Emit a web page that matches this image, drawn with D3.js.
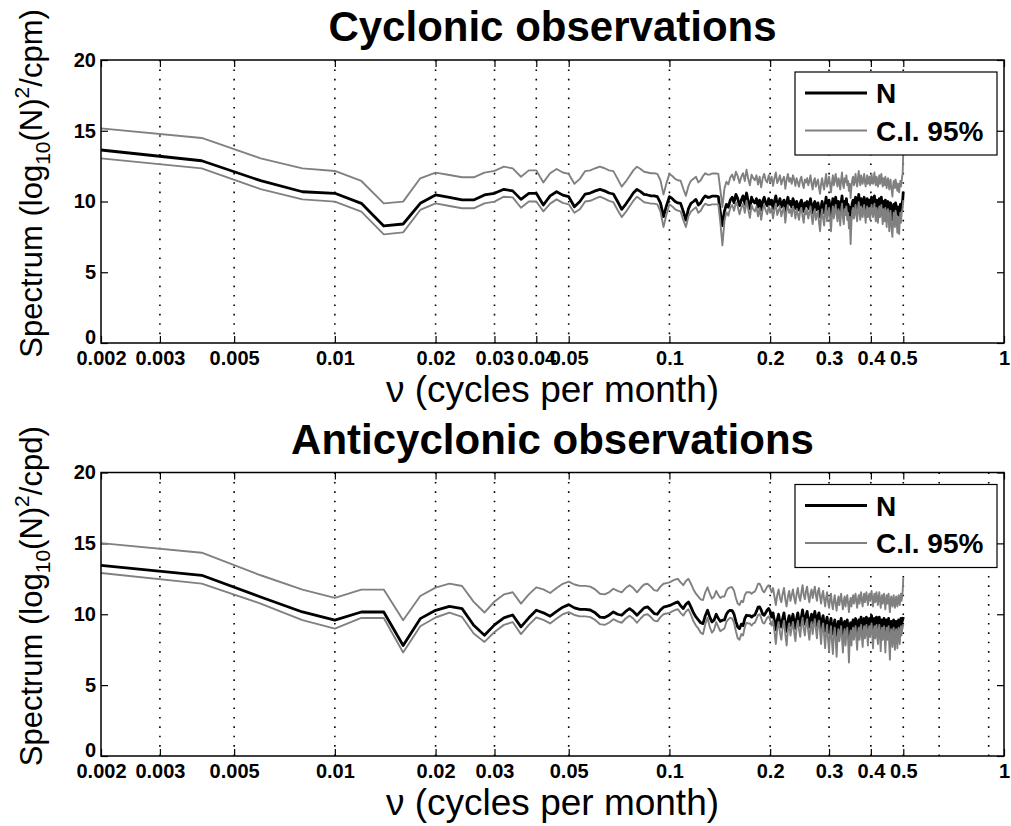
<!DOCTYPE html>
<html><head><meta charset="utf-8">
<script src="https://cdn.jsdelivr.net/npm/d3@7"></script>
<style>body{margin:0;background:#fff}svg{display:block}</style>
</head><body>
<svg id="c" width="1011" height="826"></svg>
<script>
// ---------- data ----------
const freqStep = 0.002; // spectral resolution (cycles per month); point k is at k*freqStep
const xTicksTop = [0.002,0.003,0.005,0.01,0.02,0.03,0.04,0.05,0.1,0.2,0.3,0.4,0.5,1];
const xTickLabelsTop = ["0.002","0.003","0.005","0.01","0.02","0.03","0.04","0.05","0.1","0.2","0.3","0.4","0.5","1"];
const gridTop = [0.003,0.005,0.01,0.02,0.03,0.04,0.05,0.1,0.2,0.3,0.4,0.5];
const xTicksBottom = [0.002,0.003,0.005,0.01,0.02,0.03,0.05,0.1,0.2,0.3,0.4,0.5,1];
const xTickLabelsBottom = ["0.002","0.003","0.005","0.01","0.02","0.03","0.05","0.1","0.2","0.3","0.4","0.5","1"];
const gridBottom = [0.003,0.005,0.01,0.02,0.03,0.05,0.1,0.2,0.3,0.4,0.5,0.64,0.9];
const yTicks = [0,5,10,15,20];
const legendLabels = ["N","C.I. 95%"];
const titles = ["Cyclonic observations","Anticyclonic observations"];
const yUnits = ["cpm","cpd"];

const cycN = [
13.64,12.88,11.47,10.69,10.58,9.87,8.27,8.41,9.87,10.46,
10.29,10.11,10.11,10.46,10.58,10.86,10.75,10.15,10.58,10.58,
9.75,10.40,10.69,10.45,10.34,9.63,10.00,10.53,10.60,10.75,
10.86,10.75,10.60,10.53,10.00,9.45,9.80,10.20,10.60,10.86,
10.70,10.50,10.46,10.40,10.40,10.34,9.90,8.93,9.70,10.34,
10.20,10.00,9.90,9.87,9.30,8.69,9.50,9.87,10.00,10.15,
9.75,9.90,10.20,10.40,10.30,10.30,10.38,10.38,10.38,10.35,
9.20,8.30,9.30,9.80,9.60,10.10,10.30,9.90,10.50,10.20,
9.70,10.10,10.40,9.80,10.60,10.00,9.50,10.30,10.00,9.90,
10.20,9.60,10.10,9.40,10.00,10.30,9.90,9.70,10.20,9.80,
10.10,9.50,10.00,10.40,9.70,9.90,10.20,9.60,9.90,10.10,
9.30,9.90,10.30,9.80,10.00,9.60,10.20,9.90,9.50,10.00,
9.70,9.40,9.90,10.10,9.60,9.30,9.90,9.70,10.00,9.50,
9.80,10.20,9.60,9.20,9.80,10.00,9.40,9.70,9.90,9.30,
8.90,9.60,10.00,9.50,9.20,9.80,10.30,9.40,9.70,10.10,
9.60,9.00,9.70,10.20,9.50,9.90,10.30,9.70,9.40,10.00,
9.80,9.20,9.90,10.40,9.60,9.30,10.00,9.70,10.20,9.50,
9.80,9.10,9.60,8.60,9.40,9.90,10.10,9.50,9.80,10.30,
9.70,9.40,10.00,10.50,9.80,9.50,10.20,9.90,9.60,10.00,
10.30,9.70,9.40,9.90,10.20,9.60,9.80,10.10,9.50,9.90,
10.30,9.80,9.60,10.00,10.40,9.70,9.50,10.10,9.80,9.40,
9.90,10.20,9.60,9.90,10.30,9.70,9.40,10.00,9.80,9.50,
10.10,9.70,9.30,9.80,10.00,9.60,9.20,9.70,9.90,9.40,
9.10,8.70,9.40,9.80,9.60,9.30,9.90,9.70,9.40,9.10,
9.60,9.30,9.00,9.50,9.80,9.40,9.70,9.90,10.10,10.70];

const cycUpper = [
15.17,14.49,13.05,12.34,12.16,11.45,9.87,9.99,11.64,12.04,
11.87,11.71,11.71,12.04,12.16,12.46,12.34,11.75,12.20,12.20,
11.35,12.00,12.30,12.05,11.95,11.25,11.60,12.15,12.20,12.35,
12.46,12.35,12.20,12.15,11.60,11.05,11.40,11.80,12.20,12.46,
12.30,12.10,12.05,12.00,12.00,11.95,11.50,10.50,11.30,11.95,
11.80,11.60,11.50,11.47,10.90,10.40,11.10,11.47,11.60,11.75,
11.35,11.50,11.80,12.00,11.90,11.90,11.98,11.98,11.98,11.95,
10.80,9.60,10.90,11.40,11.20,11.70,11.90,11.50,12.10,11.80,
11.30,11.75,12.00,11.45,12.25,11.60,11.15,11.90,11.65,11.50,
11.85,11.20,11.75,11.00,11.65,11.95,11.50,11.35,11.85,11.40,
11.75,11.10,11.65,12.05,11.30,11.55,11.85,11.20,11.55,11.75,
10.90,11.55,11.95,11.40,11.65,11.25,11.85,11.55,11.10,11.65,
11.35,11.05,11.55,11.75,11.25,10.95,11.55,11.35,11.65,11.15,
11.45,11.85,11.25,10.85,11.45,11.65,11.05,11.35,11.55,10.95,
10.55,11.25,11.65,11.15,10.85,11.45,11.95,11.05,11.35,11.75,
11.25,10.65,11.35,11.85,11.15,11.55,11.95,11.35,11.05,11.65,
11.45,10.85,11.55,12.05,11.25,10.95,11.65,11.35,11.85,11.15,
11.45,10.75,11.25,10.25,11.05,11.55,11.75,11.15,11.45,11.95,
11.35,11.05,11.65,12.15,11.45,11.15,11.85,11.55,11.25,11.65,
11.95,11.35,11.05,11.55,11.85,11.25,11.45,11.75,11.15,11.55,
11.95,11.45,11.25,11.65,12.05,11.35,11.15,11.75,11.45,11.05,
11.55,11.85,11.25,11.55,11.95,11.35,11.05,11.65,11.45,11.15,
11.75,11.35,10.95,11.45,11.65,11.25,10.85,11.35,11.55,11.05,
10.75,10.35,11.05,11.45,11.25,10.95,11.55,11.35,11.05,10.75,
11.25,10.95,10.65,11.15,11.45,11.05,11.35,11.75,12.00,13.60];

const cycLower = [
13.05,12.34,10.88,10.15,9.99,9.28,7.68,7.82,9.40,9.87,
9.68,9.52,9.52,9.87,9.99,10.34,10.29,9.56,10.00,10.00,
9.30,9.85,10.15,9.90,9.80,9.20,9.45,10.00,10.05,10.20,
10.34,10.20,10.05,9.95,9.40,8.90,9.25,9.65,10.05,10.34,
10.15,9.95,9.90,9.85,9.85,9.80,9.30,8.20,9.10,9.80,
9.65,9.45,9.35,9.30,8.70,8.20,8.95,9.30,9.45,9.60,
9.20,9.35,9.65,9.85,9.75,9.75,9.80,9.80,9.80,9.80,
8.50,6.90,8.60,9.25,9.00,9.55,9.75,9.35,9.95,9.65,
9.10,9.55,9.85,9.20,10.05,9.45,8.85,9.75,9.45,9.30,
9.65,8.95,9.55,8.70,9.45,9.75,9.35,9.10,9.65,9.20,
9.55,8.80,9.45,9.85,9.05,9.35,9.65,8.95,9.35,9.55,
8.50,9.35,9.75,9.20,9.45,8.95,9.65,9.35,8.80,9.45,
9.10,8.70,9.35,9.55,8.95,8.50,9.35,9.10,9.45,8.80,
9.20,9.65,8.95,8.40,9.20,9.45,8.70,9.10,9.35,8.50,
7.90,8.95,9.45,8.80,8.30,9.20,9.75,8.60,9.10,9.55,
8.90,7.90,9.05,9.65,8.80,9.35,9.75,9.05,8.60,9.45,
9.20,8.30,9.35,9.85,8.90,8.40,9.45,9.05,9.65,8.70,
9.20,8.10,8.90,7.00,8.60,9.35,9.55,8.80,9.20,9.75,
9.05,8.60,9.45,9.95,9.20,8.70,9.65,9.35,8.90,9.45,
9.75,9.05,8.50,9.35,9.65,8.90,9.20,9.55,8.70,9.35,
9.75,9.20,8.90,9.45,9.85,9.05,8.60,9.55,9.20,8.50,
9.35,9.65,8.90,9.35,9.75,9.05,8.40,9.45,9.20,8.60,
9.55,9.05,8.20,9.20,9.45,8.90,7.90,9.05,9.35,8.40,
7.90,7.50,8.50,9.20,8.90,8.20,9.35,9.05,8.50,7.80,
8.90,8.30,7.70,8.70,9.20,8.50,9.05,9.35,9.55,10.10];

const antN = [
13.45,12.75,11.22,10.16,9.58,10.16,10.16,7.80,9.69,10.28,
10.56,10.40,9.22,8.52,9.25,9.75,9.95,9.11,9.75,10.28,
10.10,9.86,10.20,10.50,10.68,10.45,10.35,10.35,10.30,10.10,
9.80,9.77,9.93,10.16,10.00,9.93,10.20,10.40,10.20,9.93,
10.20,10.45,10.52,10.30,10.05,10.00,10.30,10.50,10.56,10.60,
10.70,10.80,10.87,10.60,10.40,10.70,10.87,10.50,10.10,9.81,
9.60,9.40,9.34,9.90,10.28,9.80,9.46,9.60,10.00,9.70,
9.50,9.58,9.60,10.00,10.20,10.28,10.25,10.00,9.50,9.10,
8.99,9.30,9.20,9.70,9.93,9.90,9.90,9.80,9.90,9.95,
10.20,10.50,10.52,10.30,10.00,9.93,10.10,10.30,10.40,10.20,
9.80,10.10,9.50,8.90,9.60,10.00,9.40,9.10,9.70,10.10,
9.30,8.80,9.50,9.90,9.20,9.60,10.00,9.40,9.00,9.70,
10.10,9.50,9.20,9.80,10.30,9.60,9.30,9.90,10.20,9.50,
9.10,9.70,10.00,9.40,9.80,10.20,9.60,9.20,9.90,10.10,
9.50,9.00,9.60,9.90,9.30,8.80,9.40,9.80,9.10,8.70,
9.30,9.70,9.00,8.60,9.20,9.60,9.00,8.50,9.10,9.50,
8.90,9.30,9.70,9.10,8.60,9.20,9.50,8.80,9.30,9.60,
9.00,8.40,9.10,9.40,8.80,9.30,9.60,9.00,9.40,9.70,
9.10,8.70,9.30,9.60,9.00,9.50,9.80,9.20,8.80,9.40,
9.70,9.10,9.40,9.80,9.30,8.90,9.50,9.70,9.20,9.60,
9.90,9.30,8.80,9.40,9.70,9.10,9.50,9.80,9.20,8.90,
9.50,9.80,9.30,8.70,9.30,9.60,9.00,9.40,9.70,9.10,
8.60,9.20,9.60,9.00,9.40,9.70,8.90,8.40,9.10,9.50,
9.20,8.80,9.30,9.60,9.00,8.70,9.20,9.50,9.10,8.80,
9.30,9.60,9.10,8.90,9.40,9.70,9.20,9.50,9.60,9.80];

const antUpper = [
15.02,14.34,12.75,11.74,11.15,11.74,11.74,9.58,11.29,11.88,
12.16,11.99,10.87,10.12,10.90,11.40,11.55,10.75,11.40,11.90,
11.75,11.50,11.85,12.15,12.30,12.10,12.00,12.00,11.95,11.75,
11.45,11.40,11.55,11.80,11.65,11.55,11.85,12.05,11.85,11.55,
11.85,12.10,12.15,11.95,11.70,11.65,11.95,12.15,12.20,12.25,
12.35,12.45,12.50,12.25,12.05,12.35,12.50,12.15,11.75,11.45,
11.25,11.05,11.00,11.55,11.90,11.45,11.10,11.25,11.65,11.35,
11.15,11.25,11.25,11.65,11.85,11.90,11.90,11.65,11.15,10.75,
10.65,10.95,10.85,11.35,11.55,11.55,11.55,11.45,11.55,11.60,
11.85,12.15,12.15,11.95,11.65,11.55,11.75,11.95,12.05,11.85,
11.55,11.85,11.25,10.65,11.35,11.75,11.15,10.85,11.45,11.85,
11.05,10.55,11.25,11.65,10.95,11.35,11.75,11.15,10.75,11.45,
11.85,11.25,10.95,11.55,12.05,11.35,11.05,11.65,11.95,11.25,
10.85,11.45,11.75,11.15,11.55,11.95,11.35,10.95,11.65,11.85,
11.25,10.75,11.35,11.65,11.05,10.55,11.15,11.55,10.85,10.45,
11.05,11.45,10.75,10.35,10.95,11.35,10.75,10.25,10.85,11.25,
10.65,11.05,11.45,10.85,10.35,10.95,11.25,10.55,11.05,11.35,
10.75,10.15,10.85,11.15,10.55,11.05,11.35,10.75,11.15,11.45,
10.85,10.45,11.05,11.35,10.75,11.25,11.55,10.95,10.55,11.15,
11.45,10.85,11.15,11.55,11.05,10.65,11.25,11.45,10.95,11.35,
11.65,11.05,10.55,11.15,11.45,10.85,11.25,11.55,10.95,10.65,
11.25,11.55,11.05,10.45,11.05,11.35,10.75,11.15,11.45,10.85,
10.35,10.95,11.35,10.75,11.15,11.45,10.65,10.15,10.85,11.25,
10.95,10.55,11.05,11.35,10.75,10.45,10.95,11.25,10.85,10.55,
11.05,11.35,10.85,10.65,11.15,11.45,10.95,11.25,11.65,12.60];

const antLower = [
12.91,12.16,10.75,9.58,8.99,9.74,9.74,7.30,9.15,9.77,
10.12,9.81,8.64,8.05,8.75,9.25,9.45,8.60,9.25,9.77,
9.60,9.35,9.70,10.00,10.15,9.95,9.85,9.85,9.80,9.60,
9.30,9.25,9.40,9.65,9.50,9.40,9.70,9.90,9.70,9.40,
9.70,9.95,10.00,9.80,9.55,9.50,9.80,10.00,10.05,10.10,
10.20,10.30,10.35,10.10,9.90,10.20,10.35,9.95,9.50,9.20,
9.00,8.70,8.60,9.30,9.75,9.10,8.70,8.90,9.45,9.10,
8.80,8.90,9.00,9.45,9.65,9.75,9.70,9.40,8.80,8.30,
8.20,8.60,8.50,9.10,9.40,9.35,9.35,9.20,9.35,9.40,
9.65,9.95,10.00,9.75,9.40,9.35,9.55,9.75,9.85,9.60,
9.20,9.55,8.80,7.90,9.00,9.45,8.70,8.20,9.10,9.55,
8.60,7.80,8.90,9.35,8.50,9.00,9.45,8.70,8.10,9.10,
9.55,8.90,8.40,9.25,9.75,8.95,8.50,9.35,9.65,8.80,
8.20,9.10,9.45,8.60,9.25,9.65,8.95,8.30,9.35,9.55,
8.80,7.90,9.00,9.35,8.50,7.60,8.70,9.25,8.20,7.40,
8.60,9.15,8.10,7.20,8.50,9.05,8.20,7.00,8.40,8.95,
8.10,8.60,9.15,8.30,7.30,8.50,8.95,7.80,8.60,9.05,
8.20,6.60,8.40,8.85,7.80,8.70,9.05,8.20,8.80,9.15,
8.30,7.50,8.70,9.05,8.20,8.90,9.25,8.40,7.70,8.80,
9.15,8.30,8.70,9.25,8.60,7.80,8.90,9.15,8.40,9.05,
9.35,8.50,7.60,8.80,9.15,8.30,8.90,9.25,8.40,7.90,
8.90,9.25,8.60,7.40,8.70,9.05,8.20,8.80,9.15,8.30,
7.30,8.60,9.05,8.20,8.80,9.15,7.90,6.80,8.40,8.95,
8.50,7.70,8.70,9.05,8.20,7.50,8.60,8.95,8.30,7.60,
8.70,9.05,8.40,7.90,8.80,9.15,8.50,8.90,9.05,9.30];

// ---------- drawing ----------
const svg = d3.select("#c");
const FONT = "'Liberation Sans', Arial, Helvetica, sans-serif";
const plotL = 101, plotR = 1004;
const panels = [
  {top: 60, bottom: 343, N: cycN, up: cycUpper, lo: cycLower, ticks: xTicksTop, labels: xTickLabelsTop, grid: gridTop, title: titles[0], unit: yUnits[0]},
  {top: 472.5, bottom: 756, N: antN, up: antUpper, lo: antLower, ticks: xTicksBottom, labels: xTickLabelsBottom, grid: gridBottom, title: titles[1], unit: yUnits[1]}
];

const x = d3.scaleLog().domain([0.002, 1]).range([plotL, plotR]);

panels.forEach(p => {
  const y = d3.scaleLinear().domain([0, 20]).range([p.bottom, p.top]);
  const g = svg.append("g");

  // gridlines
  g.selectAll("line.grid").data(p.grid).join("line")
    .attr("x1", d => x(d)).attr("x2", d => x(d))
    .attr("y1", p.top).attr("y2", p.bottom)
    .attr("stroke", "#000").attr("stroke-width", 1.6)
    .attr("stroke-dasharray", "1.6 7.8");

  const fmt = d => p.labels[p.ticks.indexOf(d)];
  const axB = g.append("g").attr("transform", `translate(0,${p.bottom})`)
    .call(d3.axisBottom(x).tickValues(p.ticks).tickFormat(fmt).tickSizeInner(-7).tickSizeOuter(0).tickPadding(8));
  const axT = g.append("g").attr("transform", `translate(0,${p.top})`)
    .call(d3.axisTop(x).tickValues(p.ticks).tickFormat("").tickSizeInner(-7).tickSizeOuter(0));
  const axL = g.append("g").attr("transform", `translate(${plotL},0)`)
    .call(d3.axisLeft(y).tickValues(yTicks).tickSizeInner(-7).tickSizeOuter(0).tickPadding(5));
  const axR = g.append("g").attr("transform", `translate(${plotR},0)`)
    .call(d3.axisRight(y).tickValues(yTicks).tickFormat("").tickSizeInner(-7).tickSizeOuter(0));
  [axB, axT, axL, axR].forEach(a => {
    a.select(".domain").remove();
    a.selectAll(".tick line").attr("stroke", "#000").attr("stroke-width", 1.2);
    a.selectAll("text").attr("font-family", FONT).attr("font-weight", "bold")
      .attr("font-size", 20).attr("fill", "#000");
  });
  // lift the "0" y-label a touch so it clears the first x label
  axL.selectAll(".tick").filter(d => d === 0).select("text").attr("dy", "0.0em");

  // series
  const pts = arr => arr.map((v, i) => ({f: (i + 1) * freqStep, v}));
  const line = d3.line().x(d => x(d.f)).y(d => y(d.v));
  g.append("path").attr("d", line(pts(p.N))).attr("fill", "none")
    .attr("stroke", "#000").attr("stroke-width", 2.8).attr("stroke-linejoin", "round");
  [p.up, p.lo].forEach(arr => {
    g.append("path").attr("d", line(pts(arr))).attr("fill", "none")
      .attr("stroke", "#808080").attr("stroke-width", 1.9).attr("stroke-linejoin", "round");
  });

  // frame
  g.append("rect").attr("x", plotL).attr("y", p.top)
    .attr("width", plotR - plotL).attr("height", p.bottom - p.top)
    .attr("fill", "none").attr("stroke", "#000").attr("stroke-width", 1.5);

  // legend
  const lg = g.append("g").attr("transform", `translate(795,${p.top + 12})`);
  lg.append("rect").attr("width", 202).attr("height", 83)
    .attr("fill", "#fff").attr("stroke", "#000").attr("stroke-width", 1.2);
  const legendStyles = [{c: "#000", w: 2.8}, {c: "#808080", w: 1.9}];
  legendLabels.forEach((t, i) => {
    const ly = 21 + i * 37.5;
    lg.append("line").attr("x1", 10).attr("x2", 72).attr("y1", ly).attr("y2", ly)
      .attr("stroke", legendStyles[i].c).attr("stroke-width", legendStyles[i].w);
    lg.append("text").attr("x", 81).attr("y", ly).attr("dy", "0.36em")
      .attr("font-family", FONT).attr("font-weight", "bold").attr("font-size", 28)
      .text(t);
  });

  // title
  svg.append("text").attr("x", (plotL + plotR) / 2).attr("y", p.top - 19)
    .attr("text-anchor", "middle").attr("font-family", FONT).attr("font-weight", "bold")
    .attr("font-size", 42).text(p.title);

  // x label
  svg.append("text").attr("x", (plotL + plotR) / 2).attr("y", p.bottom + 59)
    .attr("text-anchor", "middle").attr("font-family", FONT)
    .attr("font-size", 37).text("\u03bd (cycles per month)");

  // y label
  const yl = svg.append("text")
    .attr("transform", `translate(42,${(p.top + p.bottom) / 2 - 18}) rotate(-90)`)
    .attr("text-anchor", "middle").attr("font-family", FONT).attr("font-size", 31);
  yl.append("tspan").text("Spectrum (log");
  yl.append("tspan").attr("font-size", 21).attr("dy", 8).text("10");
  yl.append("tspan").attr("dy", -8).text("(N)");
  yl.append("tspan").attr("font-size", 21).attr("dy", -13).text("2");
  yl.append("tspan").attr("dy", 13).text("/" + p.unit + ")");
});
</script>
</body></html>
